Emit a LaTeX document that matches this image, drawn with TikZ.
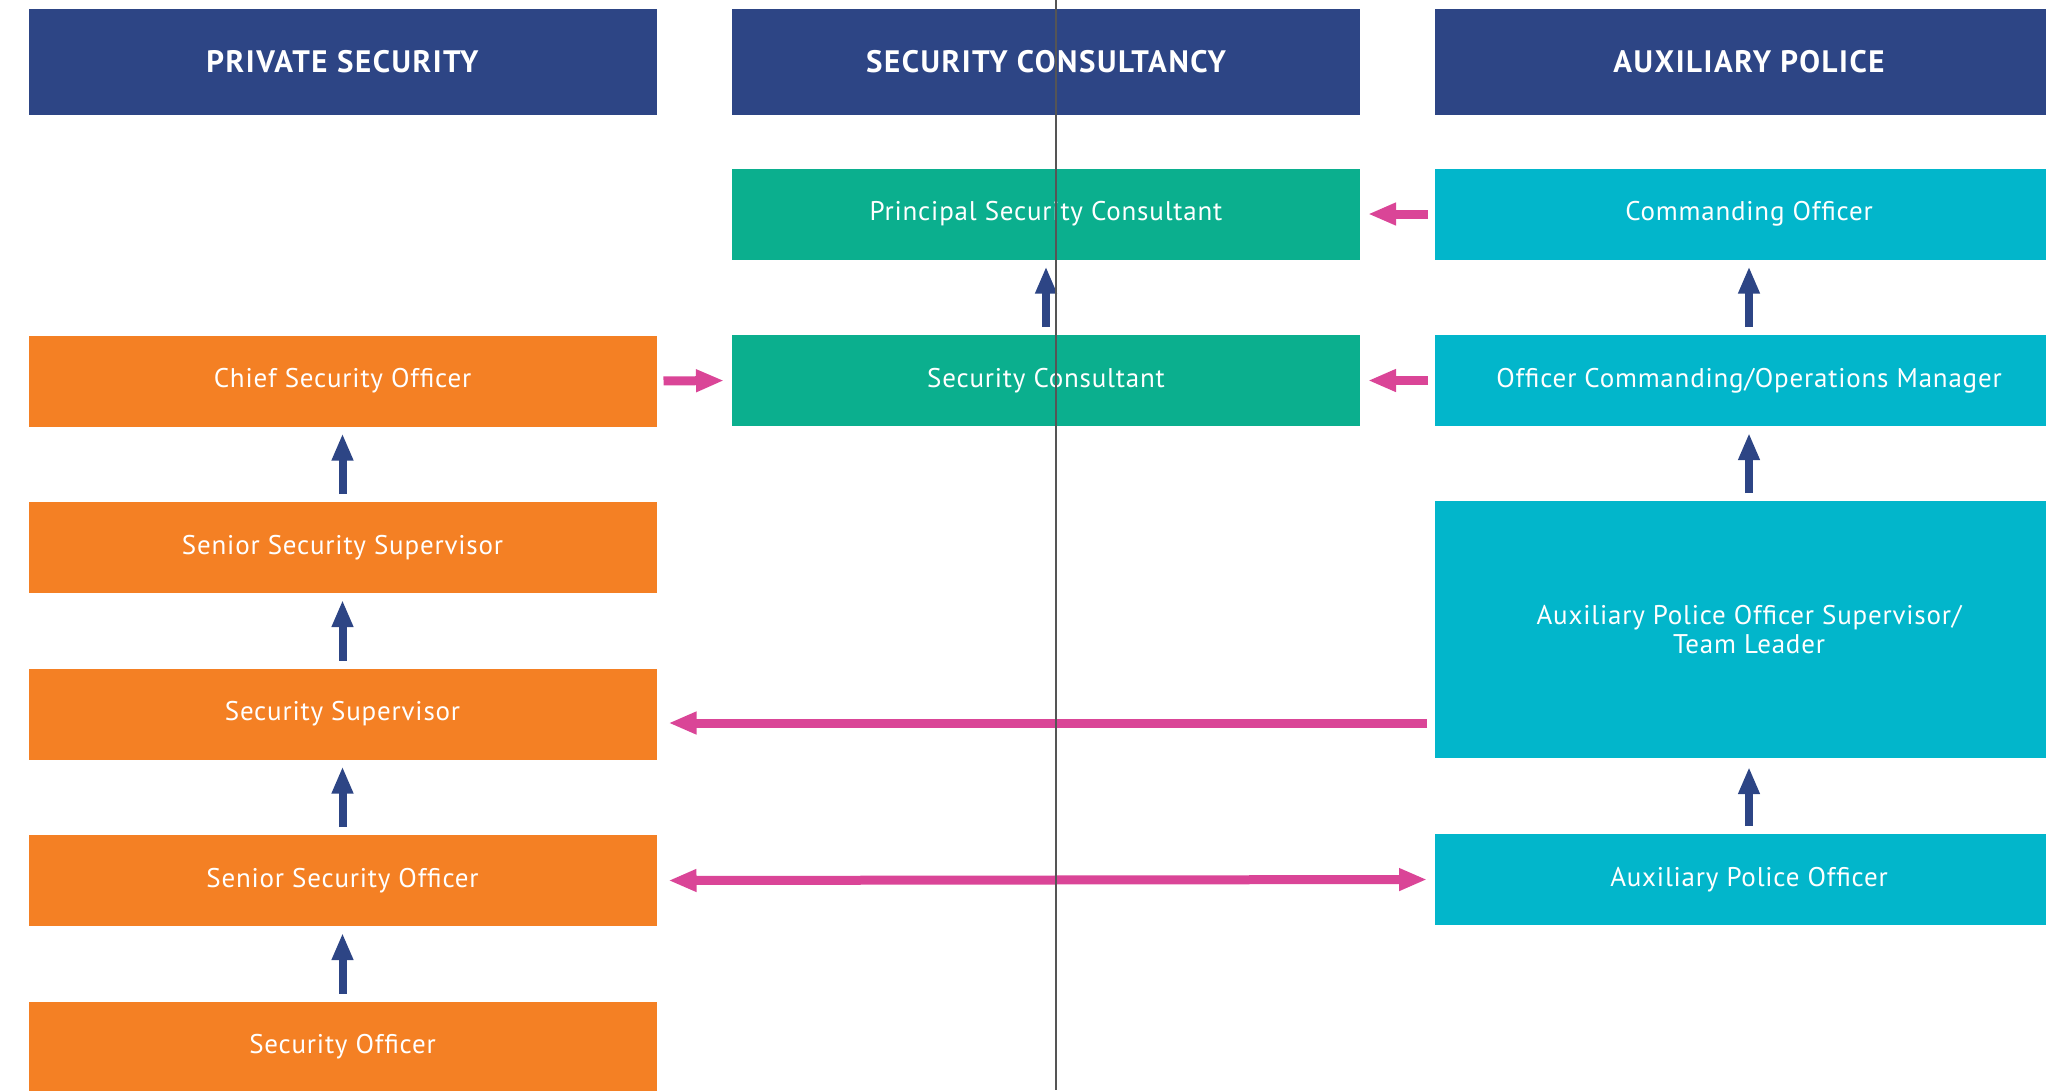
\documentclass[tikz,border=0pt]{standalone}
\usepackage{fontspec}
\setmainfont{PT Sans}
\newfontfamily\boxfont{PT Sans}[LetterSpace=3]
\newfontfamily\headfont{PT Sans}[LetterSpace=5]
\usetikzlibrary{arrows.meta,positioning}

\definecolor{navy}{HTML}{2D4585}
\definecolor{psorange}{HTML}{F48024}
\definecolor{scgreen}{HTML}{0BAF8E}
\definecolor{apcyan}{HTML}{02B6CB}
\definecolor{linkpink}{HTML}{DA4597}
\definecolor{cutgray}{HTML}{555555}

\tikzset{
  box/.style={rectangle, inner sep=0pt, outer sep=0pt, minimum width=628pt,
    minimum height=91pt, text=white, align=center, font=\boxfont\fontsize{27}{29}\selectfont},
  header/.style={box, fill=navy, minimum height=106pt, font=\headfont\fontsize{31}{34}\selectfont\bfseries},
  psbox/.style={box, fill=psorange},
  scbox/.style={box, fill=scgreen},
  apbox/.style={box, fill=apcyan},
  rankup/.style={draw=navy, line width=8pt, >={Triangle[length=27pt,width=20pt]}, ->},
  link/.style={draw=linkpink, line width=9pt, >={Triangle[length=28pt,width=21pt]}, ->},
  cutline/.style={draw=cutgray, line width=1.7pt}
}

\begin{document}
\begin{tikzpicture}[x=1pt,y=-1pt]
  \useasboundingbox (0,0) rectangle (2046,1090);
  \clip (0,0) rectangle (2046,1090);

  % column heads
  \node[header] (ps) at (342.5,62) {PRIVATE SECURITY};
  \node[header] (sc) at (1046,62) {SECURITY CONSULTANCY};
  \node[header] (ap) at (1749,62) {AUXILIARY POLICE};

  % private security
  \node[psbox] (cso) at (342.5,381) {Chief Security Officer};
  \node[psbox, below=75.5pt of cso] (sss) {Senior Security Supervisor};
  \node[psbox, below=75.5pt of sss] (ssup) {Security Supervisor};
  \node[psbox, below=75.5pt of ssup] (sso) {Senior Security Officer};
  \node[psbox, below=75.5pt of sso] (so) {Security Officer};

  % security consultancy
  \node[scbox] (psc) at (1046,214) {Principal Security Consultant};
  \node[scbox, below=75.5pt of psc] (scons) {Security Consultant};

  % auxiliary police
  \node[apbox] (co) at (1749,214) {Commanding Officer};
  \node[apbox, below=75.5pt of co] (ocom) {Officer Commanding/Operations Manager};
  \node[apbox, minimum height=257pt] (apos) at (1749,629.5)
    {Auxiliary Police Officer Supervisor/\\Team Leader};
  \node[apbox] (apo) at (1749,879.5) {Auxiliary Police Officer};

  % promotion within a column
  \draw[rankup] ([yshift=8pt]so.north) -- ([yshift=-7pt]sso.south);
  \draw[rankup] ([yshift=8pt]sso.north) -- ([yshift=-7pt]ssup.south);
  \draw[rankup] ([yshift=8pt]ssup.north) -- ([yshift=-7pt]sss.south);
  \draw[rankup] ([yshift=8pt]sss.north) -- ([yshift=-7pt]cso.south);
  \draw[rankup] ([yshift=8pt]scons.north) -- ([yshift=-7pt]psc.south);
  \draw[rankup] ([yshift=8pt]ocom.north) -- ([yshift=-7pt]co.south);
  \draw[rankup] ([yshift=8pt]apos.north) -- ([yshift=-7pt]ocom.south);
  \draw[rankup] ([yshift=8pt]apo.north) -- ([yshift=-9pt]apos.south);

  % moves across columns
  \coordinate (supin) at ([yshift=-9pt]ssup.east);
  \draw[link, shorten <=7pt, shorten >=8pt] (cso.east) -- (scons.west);
  \draw[link, shorten <=7pt, shorten >=8pt] (co.west) -- (psc.east);
  \draw[link, shorten <=7pt, shorten >=8pt] (ocom.west) -- (scons.east);
  \draw[link, shorten <=8pt, shorten >=12pt] (apos.west |- supin) -- (supin);
  \draw[link, <->, shorten <=12pt, shorten >=8pt] (sso.east) -- (apo.west);

  % fold line
  \coordinate (foldtop) at (1056,0);
  \coordinate (foldbottom) at (1056,1090);
  \draw[cutline] (foldtop) -- (foldbottom);
\end{tikzpicture}
\end{document}
